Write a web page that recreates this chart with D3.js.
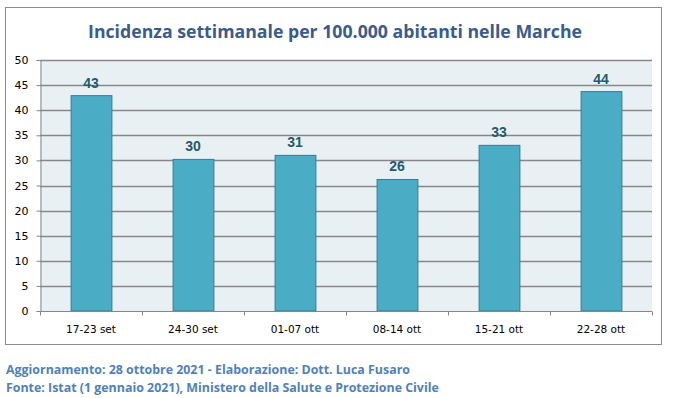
<!DOCTYPE html>
<html>
<head>
<meta charset="utf-8">
<script src="https://cdn.jsdelivr.net/npm/d3@7"></script>
<style>
  body { margin: 0; background: #fff; }
</style>
</head>
<body>
<script>
var weeks = ["17-23 set", "24-30 set", "01-07 ott", "08-14 ott", "15-21 ott", "22-28 ott"];
var incidence = [42.9, 30.2, 31.0, 26.2, 33.0, 43.7];
var yTicks = [0, 5, 10, 15, 20, 25, 30, 35, 40, 45, 50];

var title = "Incidenza settimanale per 100.000 abitanti nelle Marche";
var footer = [
  "Aggiornamento: 28 ottobre 2021 - Elaborazione: Dott. Luca Fusaro",
  "Fonte: Istat (1 gennaio 2021), Ministero della Salute e Protezione Civile"
];

var w = 673, h = 398;
var mLeft = 40, mRight = 652, mTop = 60, mBottom = 311;

var svg = d3.select("body").append("svg")
  .attr("width", w)
  .attr("height", h);

// outer frame
svg.append("rect")
  .attr("x", 5.5).attr("y", 7.5)
  .attr("width", 656).attr("height", 337)
  .attr("fill", "none")
  .attr("stroke", "#8c8c8c")
  .attr("stroke-width", 1);

svg.append("text")
  .attr("x", 335).attr("y", 38)
  .attr("text-anchor", "middle")
  .attr("font-family", "Open Sans, sans-serif")
  .attr("font-weight", "bold")
  .attr("font-size", "17.7px")
  .attr("fill", "#3b5b8d")
  .text(title);

var xScale = d3.scaleBand()
  .domain(weeks)
  .range([mLeft, mRight])
  .paddingInner(0.6)
  .paddingOuter(0.3);

var yScale = d3.scaleLinear()
  .domain([0, 50])
  .range([mBottom, mTop]);

/* ===== PLOT AREA =====*/
svg.append("rect")
  .attr("x", mLeft).attr("y", mTop)
  .attr("width", mRight - mLeft).attr("height", mBottom - mTop)
  .attr("fill", "#e9f0f4");

svg.append("g")
  .selectAll("line")
  .data(yTicks.filter(function (d) { return d > 0; }))
  .enter()
  .append("line")
  .attr("x1", mLeft).attr("x2", mRight)
  .attr("y1", function (d) { return Math.round(yScale(d)) + 0.5; })
  .attr("y2", function (d) { return Math.round(yScale(d)) + 0.5; })
  .attr("stroke", "#878787")
  .attr("stroke-width", 1.3);

/* ===== BARS =====*/
var group = svg.selectAll("g.bar")
  .data(incidence)
  .enter()
  .append("g")
  .attr("class", "bar");

group.append("rect")
  .attr("x", function (d, i) { return xScale(weeks[i]) + 0.5; })
  .attr("y", function (d) { return yScale(d); })
  .attr("width", xScale.bandwidth())
  .attr("height", function (d) { return mBottom - yScale(d); })
  .attr("fill", "#4bacc6")
  .attr("stroke", "#357d92")
  .attr("stroke-width", 1);

group.append("text")
  .text(function (d) { return Math.round(d); })
  .attr("text-anchor", "middle")
  .attr("x", function (d, i) { return xScale(weeks[i]) + xScale.bandwidth() / 2; })
  .attr("y", function (d) { return yScale(d) - 8; })
  .attr("font-family", "Liberation Sans, sans-serif")
  .attr("font-weight", "bold")
  .attr("font-size", "14px")
  .attr("fill", "#255a6b");

/* ===== AXES =====*/
var yAxis = d3.axisLeft(yScale)
  .tickValues(yTicks)
  .tickSize(4)
  .tickPadding(8);

var gy = svg.append("g")
  .attr("transform", "translate(" + (mLeft + 0.5) + ",0)")
  .call(yAxis);
gy.select(".domain").attr("stroke", "#878787");
gy.selectAll(".tick line").attr("stroke", "#878787");
gy.selectAll("text")
  .attr("font-family", "DejaVu Sans, sans-serif")
  .attr("font-size", "11px")
  .attr("fill", "#000");

var gx = svg.append("g")
  .attr("transform", "translate(0," + (mBottom + 0.5) + ")");
gx.append("line")
  .attr("x1", mLeft).attr("x2", mRight)
  .attr("stroke", "#878787");
var step = xScale.step();
gx.selectAll("line.sep")
  .data(d3.range(weeks.length + 1))
  .enter()
  .append("line")
  .attr("class", "sep")
  .attr("x1", function (i) { return mLeft + i * step + 0.5; })
  .attr("x2", function (i) { return mLeft + i * step + 0.5; })
  .attr("y1", 0).attr("y2", 4)
  .attr("stroke", "#878787");
gx.selectAll("text")
  .data(weeks)
  .enter()
  .append("text")
  .text(function (d) { return d; })
  .attr("x", function (d) { return xScale(d) + xScale.bandwidth() / 2; })
  .attr("y", 21)
  .attr("text-anchor", "middle")
  .attr("font-family", "DejaVu Sans, sans-serif")
  .attr("font-size", "10.5px")
  .attr("fill", "#000");

/* ===== FOOTER =====*/
svg.selectAll("text.foot")
  .data(footer)
  .enter()
  .append("text")
  .attr("class", "foot")
  .attr("x", 6)
  .attr("y", function (d, i) { return 374 + i * 18; })
  .attr("font-family", "Open Sans, sans-serif")
  .attr("font-weight", "bold")
  .attr("font-size", "12.4px")
  .attr("fill", "#4f81bd")
  .text(function (d) { return d; });
</script>
</body>
</html>
